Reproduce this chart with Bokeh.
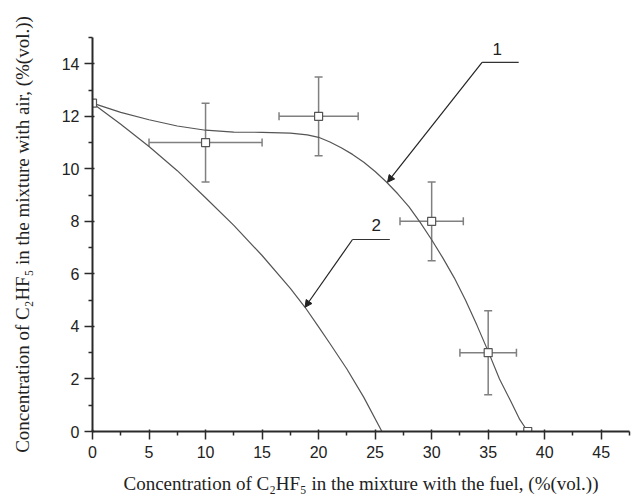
from bokeh.plotting import figure
from bokeh.models import ColumnDataSource, Whisker, TeeHead, Arrow, NormalHead, Label, FixedTicker, Range1d
from bokeh.embed import file_html
from bokeh.resources import INLINE

# experimental points (x = % in fuel mixture, y = % in air mixture)
pt_x = [0, 10, 20, 30, 35, 38.5]
pt_y = [12.5, 11, 12, 8, 3, 0]
xerr_lo = [0, 5, 16.5, 27.2, 32.5, 38.5]
xerr_hi = [0, 15, 23.5, 32.8, 37.5, 38.5]
yerr_lo = [12.5, 9.5, 10.5, 6.5, 1.4, 0]
yerr_hi = [12.5, 12.5, 13.5, 9.5, 4.6, 0]

# curve 1
c1_x = [0, 2.5, 5, 7.5, 10, 12.5, 15, 17.5, 19, 20, 21, 22, 23, 24, 25, 26, 27, 28, 29, 30,
        31, 32, 33, 34, 35, 36, 37, 37.8, 38.5]
c1_y = [12.5, 12.15, 11.87, 11.63, 11.47, 11.4, 11.39, 11.36, 11.29, 11.2, 11.02, 10.8, 10.55,
        10.25, 9.9, 9.5, 9.05, 8.55, 7.95, 7.3, 6.6, 5.85, 5.0, 4.05, 3.05, 2.0, 1.15, 0.45, 0]

# curve 2
c2_x = [0, 2.5, 5, 7.5, 10, 12.5, 15, 17.5, 18.8, 20, 21, 22.5, 24, 25.6]
c2_y = [12.5, 11.7, 10.85, 9.93, 8.9, 7.85, 6.7, 5.45, 4.73, 3.98, 3.35, 2.38, 1.3, 0]

x_ticks = [0, 5, 10, 15, 20, 25, 30, 35, 40, 45]
y_ticks = [0, 2, 4, 6, 8, 10, 12, 14]

p = figure(frame_width=537, frame_height=394,
           x_range=Range1d(0, 47.5), y_range=Range1d(0, 15),
           min_border_left=92, min_border_top=37, min_border_right=8, min_border_bottom=58,
           output_backend="svg", toolbar_location=None)
p.outline_line_color = None
p.xgrid.visible = False
p.ygrid.visible = False
p.background_fill_color = "white"
p.border_fill_color = "white"

axis_col = "#2a2a2a"
for ax in (p.xaxis[0], p.yaxis[0]):
    ax.axis_line_color = axis_col
    ax.axis_line_width = 2
    ax.major_tick_line_color = axis_col
    ax.minor_tick_line_color = axis_col
    ax.major_tick_line_width = 1.5
    ax.minor_tick_line_width = 1.5
    ax.major_tick_out = 8
    ax.major_tick_in = 2
    ax.minor_tick_out = 4
    ax.minor_tick_in = 0
    ax.major_label_text_font = "Liberation Sans"
    ax.major_label_text_font_size = "16px"
    ax.major_label_text_color = "#222222"
    ax.axis_label_text_font = "Liberation Serif"
    ax.axis_label_text_font_size = "19px"
    ax.axis_label_text_font_style = "normal"
    ax.axis_label_text_color = "#222222"

p.xaxis.ticker = FixedTicker(ticks=x_ticks, minor_ticks=[v + 2.5 for v in x_ticks])
p.yaxis.ticker = FixedTicker(ticks=y_ticks, minor_ticks=[v + 1 for v in y_ticks])
p.xaxis.major_label_standoff = 6
p.yaxis.major_label_standoff = 5
p.xaxis.axis_label = "Concentration of C\u2082HF\u2085 in the mixture with the fuel, (%(vol.))"
p.yaxis.axis_label = "Concentration of C\u2082HF\u2085 in the mixture with air, (%(vol.))"
p.xaxis.axis_label_standoff = 12
p.yaxis.axis_label_standoff = 26

curve_col = "#555555"
p.line(c1_x, c1_y, line_color=curve_col, line_width=1.2)
p.line(c2_x, c2_y, line_color=curve_col, line_width=1.2)

src = ColumnDataSource(dict(x=pt_x, y=pt_y, xl=xerr_lo, xh=xerr_hi, yl=yerr_lo, yh=yerr_hi))
err_col = "#808080"
wy = Whisker(source=src, base="x", lower="yl", upper="yh", dimension="height",
             line_color=err_col, line_width=1.5,
             upper_head=TeeHead(size=8, line_color=err_col, line_width=1.5),
             lower_head=TeeHead(size=8, line_color=err_col, line_width=1.5))
wx = Whisker(source=src, base="y", lower="xl", upper="xh", dimension="width",
             line_color=err_col, line_width=1.5,
             upper_head=TeeHead(size=8, line_color=err_col, line_width=1.5),
             lower_head=TeeHead(size=8, line_color=err_col, line_width=1.5))
p.add_layout(wy)
p.add_layout(wx)
p.scatter("x", "y", source=src, marker="square", size=8, fill_color="white",
          line_color="#555555", line_width=1.2)

# annotation 1
p.segment(x0=[34.46], y0=[14.05], x1=[37.7], y1=[14.05], line_color="#333333", line_width=1.2)
p.add_layout(Arrow(end=NormalHead(size=7, fill_color="#222222", line_color="#222222"),
                   x_start=34.46, y_start=14.05, x_end=26.1, y_end=9.49,
                   line_color="#222222", line_width=1.2))
p.add_layout(Label(x=35.8, y=14.57, text="1", text_align="center", text_baseline="middle",
                   text_font="Liberation Sans", text_font_size="17px", text_color="#222222"))

# annotation 2
p.segment(x0=[23.0], y0=[7.31], x1=[26.3], y1=[7.31], line_color="#333333", line_width=1.2)
p.add_layout(Arrow(end=NormalHead(size=7, fill_color="#222222", line_color="#222222"),
                   x_start=23.0, y_start=7.31, x_end=18.8, y_end=4.73,
                   line_color="#222222", line_width=1.2))
p.add_layout(Label(x=25.1, y=7.88, text="2", text_align="center", text_baseline="middle",
                   text_font="Liberation Sans", text_font_size="17px", text_color="#222222"))

open("out.html", "w").write(file_html(p, INLINE))
